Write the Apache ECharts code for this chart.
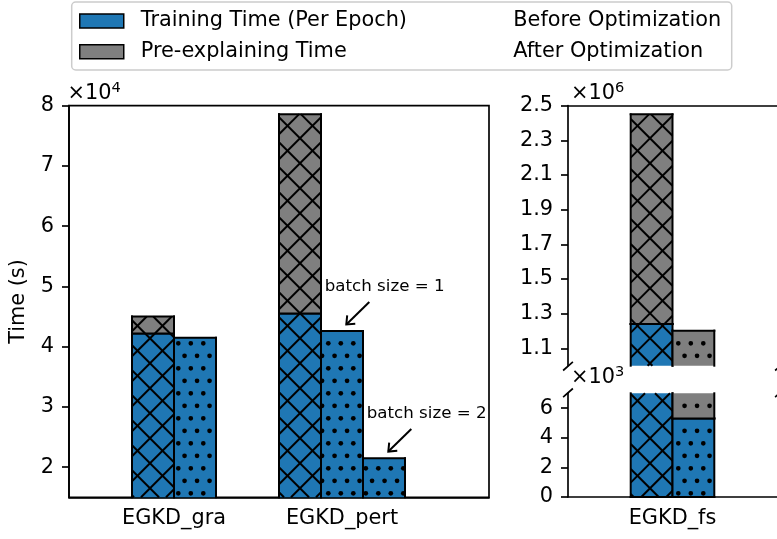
<!DOCTYPE html>
<html><head><meta charset="utf-8">
<script src="https://cdn.jsdelivr.net/npm/echarts@6/dist/echarts.min.js"></script>
<style>html,body{margin:0;padding:0;background:#fff}#c{width:777px;height:539px}</style>
</head><body><div id="c"></div>
<script>
// ---------- data ----------
const categories = ['EGKD_gra', 'EGKD_pert', 'EGKD_fs'];
const trainingBefore = [42200, 45500, 1240000];
const preexplainBefore = [2800, 33100, 1210000];
const trainingAfter = [41500, 42600, 5300];
const preexplainAfter = [0, 0, 1197000];
const trainingAfterBatch2 = [null, 21500, null];
const batchNotes = ['batch size = 1', 'batch size = 2'];
const legendNames = ['Training Time (Per Epoch)', 'Pre-explaining Time'];
const phaseNames = ['Before Optimization', 'After Optimization'];
const yTicksLeft = [2, 3, 4, 5, 6, 7, 8];                          // x10^4
const yTicksTopRight = [1.1, 1.3, 1.5, 1.7, 1.9, 2.1, 2.3, 2.5];   // x10^6
const yTicksBottomRight = [0, 2, 4, 6];                             // x10^3
const yLabel = 'Time (s)';

// ---------- layout / style ----------
const FONT = 'DejaVu Sans';
const FS = 20.83, FS_SMALL = 16.67, FS_SUP = 14.6;
const BLUE = '#1f77b4', GRAY = '#7f7f7f';
const AX = 1.67;
const panels = [
  {grid:{left:65, top:105.7, width:424, height:391.6}, x:[0,10], y:[15000,80000], exp:4, ticks:yTicksLeft, dec:0},
  {grid:{left:568, top:105.7, width:212, height:260}, x:[0,5], y:[1000000,2500000], exp:6, ticks:yTicksTopRight, dec:1},
  {grid:{left:568, top:393.3, width:212, height:103.7}, x:[0,5], y:[0,7000], exp:3, ticks:yTicksBottomRight, dec:0}
];
const groupCenter = [2.5, 6.5, 2.5];
const catPanels = [[0], [0], [1, 2]];
const CROSS_P = 25, CROSS_C = 13.3;
const DOT_S = 12.5, DOT_OX = 178.3, DOT_OY = 343.3, DOT_R = 2.35;

function buildBars(p) {
  const train = [], pre = [];
  categories.forEach((cat, i) => {
    if (catPanels[i].indexOf(p) < 0) return;
    const c = groupCenter[i];
    const hasB2 = trainingAfterBatch2[i] != null;
    const xb = hasB2 ? c - 1 : c - 0.5, xa = hasB2 ? c : c + 0.5;
    train.push([xb, 0, trainingBefore[i], 0]);
    if (preexplainBefore[i] > 0) pre.push([xb, trainingBefore[i], trainingBefore[i] + preexplainBefore[i], 0]);
    train.push([xa, 0, trainingAfter[i], 1]);
    if (preexplainAfter[i] > 0) pre.push([xa, trainingAfter[i], trainingAfter[i] + preexplainAfter[i], 1]);
    if (hasB2) train.push([c + 1, 0, trainingAfterBatch2[i], 1]);
  });
  return {train, pre};
}

function crossSegs(x0, y0, x1, y1) {
  const segs = [];
  let cmin = y0 - x1, cmax = y1 - x0;
  for (let c = CROSS_C + Math.ceil((cmin - CROSS_C) / CROSS_P) * CROSS_P; c <= cmax; c += CROSS_P) {
    const xa = Math.max(x0, y0 - c), xb = Math.min(x1, y1 - c);
    if (xb > xa + 0.3) segs.push([xa, xa + c, xb, xb + c]);
  }
  cmin = y0 + x0; cmax = y1 + x1;
  for (let c = CROSS_C + Math.ceil((cmin - CROSS_C) / CROSS_P) * CROSS_P; c <= cmax; c += CROSS_P) {
    const xa = Math.max(x0, c - y1), xb = Math.min(x1, c - y0);
    if (xb > xa + 0.3) segs.push([xa, c - xa, xb, c - xb]);
  }
  return segs;
}
function dotPts(x0, y0, x1, y1) {
  const pts = [];
  const j0 = Math.ceil((y0 - DOT_OY) / DOT_S), j1 = Math.floor((y1 - DOT_OY) / DOT_S);
  for (let j = j0; j <= j1; j++) {
    const y = DOT_OY + j * DOT_S;
    if (y < y0 + 1 || y > y1 - 1) continue;
    const sh = (((j % 2) + 2) % 2) ? -DOT_S / 2 : 0;
    const ox = DOT_OX + sh;
    const i0 = Math.ceil((x0 + 1 - ox) / DOT_S), i1 = Math.floor((x1 - 1 - ox) / DOT_S);
    for (let i = i0; i <= i1; i++) pts.push([ox + i * DOT_S, y]);
  }
  return pts;
}

function makeRender(p) {
  const ymin = panels[p].y[0], ymax = panels[p].y[1];
  return function (params, api) {
    const xc = api.value(0);
    let b = api.value(1), t = api.value(2);
    const hatch = api.value(3);
    const clipB = b < ymin, clipT = t > ymax;
    b = Math.max(b, ymin); t = Math.min(t, ymax);
    if (t <= b) return null;
    const tl = api.coord([xc - 0.5, t]), br = api.coord([xc + 0.5, b]);
    const x0 = tl[0], y0 = tl[1], x1 = br[0], y1 = br[1];
    const children = [{type:'rect', shape:{x:x0, y:y0, width:x1 - x0, height:y1 - y0}, style:{fill:api.visual('color')}}];
    if (hatch === 0) {
      crossSegs(x0, y0, x1, y1).forEach(s => children.push({type:'line', shape:{x1:s[0], y1:s[1], x2:s[2], y2:s[3]}, style:{stroke:'#000', lineWidth:2}}));
    } else {
      dotPts(x0, y0, x1, y1).forEach(d => children.push({type:'circle', shape:{cx:d[0], cy:d[1], r:DOT_R}, style:{fill:'#000'}}));
    }
    const edge = (a, bb, c, d) => children.push({type:'line', shape:{x1:a, y1:bb, x2:c, y2:d}, style:{stroke:'#000', lineWidth:2, lineCap:'square'}});
    edge(x0, y0, x0, y1); edge(x1, y0, x1, y1);
    if (!clipT) edge(x0, y0, x1, y0);
    if (!clipB) edge(x0, y1, x1, y1);
    return {type:'group', children};
  };
}

const grids = panels.map((pn, i) => Object.assign({}, pn.grid, i === 0 ? {show:true, borderColor:'#000', borderWidth:AX} : {}));
const xAxes = panels.map((pn, p) => {
  const centers = [];
  categories.forEach((c, i) => { if (catPanels[i].indexOf(p) >= 0 && p !== 1) centers.push(groupCenter[i]); });
  return {
    type:'value', gridIndex:p, min:pn.x[0], max:pn.x[1], position: p === 1 ? 'top' : 'bottom',
    splitLine:{show:false}, axisTick:{show:false},
    axisLine:{show:true, onZero:false, lineStyle:{color:'#000', width:AX}},
    axisLabel:{show: p !== 1, customValues:centers, margin:11, fontSize:FS, fontFamily:FONT, color:'#000',
      formatter: v => { for (let i = 0; i < categories.length; i++) if (catPanels[i].indexOf(p) >= 0 && groupCenter[i] === v) return categories[i]; return ''; }}
  };
});
const yAxes = panels.map((pn, p) => {
  const sc = Math.pow(10, pn.exp);
  const vals = pn.ticks.map(t => Math.round(t * sc));
  return {
    type:'value', gridIndex:p, min:pn.y[0], max:pn.y[1], splitLine:{show:false},
    axisLine:{show:true, onZero:false, lineStyle:{color:'#000', width:AX}},
    axisTick:{show:true, customValues:vals, length:7, lineStyle:{color:'#000', width:AX}},
    axisLabel:{customValues:vals, margin:15, fontSize:FS, fontFamily:FONT, color:'#000',
      formatter: v => (v / sc).toFixed(pn.dec)},
    name: p === 0 ? yLabel : '', nameLocation:'middle', nameGap:40,
    nameTextStyle:{fontSize:FS, fontFamily:FONT, color:'#000'}
  };
});

const series = [];
panels.forEach((pn, p) => {
  const bars = buildBars(p);
  series.push({type:'custom', name:legendNames[0], xAxisIndex:p, yAxisIndex:p, itemStyle:{color:BLUE},
    renderItem:makeRender(p), data:bars.train, encode:{x:0, y:[1, 2]}, clip:false, silent:true, emphasis:{disabled:true}, z:2});
  series.push({type:'custom', name:legendNames[1], xAxisIndex:p, yAxisIndex:p, itemStyle:{color:GRAY},
    renderItem:makeRender(p), data:bars.pre, encode:{x:0, y:[1, 2]}, clip:false, silent:true, emphasis:{disabled:true}, z:3});
});
phaseNames.forEach(n => series.push({type:'custom', name:n, xAxisIndex:0, yAxisIndex:0, data:[], renderItem:() => null, itemStyle:{color:'rgba(0,0,0,0)'}}));

const chart = echarts.init(document.getElementById('c'), null, {renderer:'canvas', width:777, height:539});
chart.setOption({
  animation:false,
  backgroundColor:'#fff',
  textStyle:{fontFamily:FONT},
  grid:grids, xAxis:xAxes, yAxis:yAxes, series:series,
  legend:[
    {data:legendNames, orient:'vertical', left:79, top:10.5, padding:0, itemWidth:44, itemHeight:14, itemGap:9.8,
     selectedMode:false, icon:'rect', itemStyle:{borderColor:'#000', borderWidth:1.5},
     textStyle:{fontFamily:FONT, fontSize:FS, color:'#000', lineHeight:21, padding:[0, 0, 0, 12]}},
    {data:phaseNames, orient:'vertical', left:507.3, top:10.5, padding:0, itemWidth:1, itemHeight:1, itemGap:9.8,
     selectedMode:false, icon:'rect', itemStyle:{color:'rgba(0,0,0,0)', borderWidth:0},
     textStyle:{fontFamily:FONT, fontSize:FS, color:'#000', lineHeight:21}}
  ]
});

// ---------- decorations ----------
const g = [];
g.push({type:'rect', z:0, shape:{x:71.7, y:2, width:660, height:68, r:4}, style:{fill:'rgba(255,255,255,0.8)', stroke:'#cccccc', lineWidth:1.5}});
function sci(x, y, exp) {
  return {type:'text', x:x, y:y, z:10, style:{text:'{a|×10}{b|' + exp + '}', verticalAlign:'middle', align:'left', fill:'#000',
    rich:{a:{fontSize:FS, lineHeight:26, fontFamily:FONT, fill:'#000'}, b:{fontSize:FS_SUP, lineHeight:FS_SUP, verticalAlign:'top', fontFamily:FONT, fill:'#000'}}}};
}
g.push(sci(67.5, 93.3, panels[0].exp));
g.push(sci(571, 93.3, panels[1].exp));
g.push(sci(571, 377.5, panels[2].exp));
// broken-axis marks
function brk(cx, cy) {
  return {type:'line', z:10, shape:{x1:cx - 4.9, y1:cy + 4.3, x2:cx + 4.9, y2:cy - 4.3}, style:{stroke:'#000', lineWidth:AX}};
}
const gTop = panels[1].grid, gBot = panels[2].grid;
g.push(brk(gTop.left, gTop.top + gTop.height + 0.5));
g.push(brk(gTop.left + gTop.width, gTop.top + gTop.height + 0.5));
g.push(brk(gBot.left, gBot.top - 0.5));
g.push(brk(gBot.left + gBot.width, gBot.top - 0.5));
// annotations
const notePoints = [
  [groupCenter[1], trainingAfter[1]],
  [groupCenter[1] + 1, trainingAfterBatch2[1]]
];
notePoints.forEach((pt, k) => {
  const px = chart.convertToPixel({gridIndex:0}, pt);
  const tip = [px[0] + 4.3, px[1] - 6.6];
  const tail = [tip[0] + 23, tip[1] - 22.5];
  g.push({type:'text', x:tip[0] - 21.5, y:tip[1] - 38.2, z:10,
    style:{text:batchNotes[k], fontSize:FS_SMALL, fontFamily:FONT, fill:'#000', align:'left', verticalAlign:'middle'}});
  g.push({type:'line', z:10, shape:{x1:tail[0], y1:tail[1], x2:tip[0], y2:tip[1]}, style:{stroke:'#000', lineWidth:2}});
  const dx = tail[0] - tip[0], dy = tail[1] - tip[1], L = Math.hypot(dx, dy);
  const ux = dx / L, uy = dy / L, a = 40 * Math.PI / 180, hl = 9;
  const r1 = [tip[0] + hl * (ux * Math.cos(a) - uy * Math.sin(a)), tip[1] + hl * (ux * Math.sin(a) + uy * Math.cos(a))];
  const r2 = [tip[0] + hl * (ux * Math.cos(-a) - uy * Math.sin(-a)), tip[1] + hl * (ux * Math.sin(-a) + uy * Math.cos(-a))];
  g.push({type:'polyline', z:10, shape:{points:[r1, tip, r2]}, style:{stroke:'#000', lineWidth:2, fill:null}});
});
chart.setOption({graphic:{elements:g}});
</script>
</body></html>
